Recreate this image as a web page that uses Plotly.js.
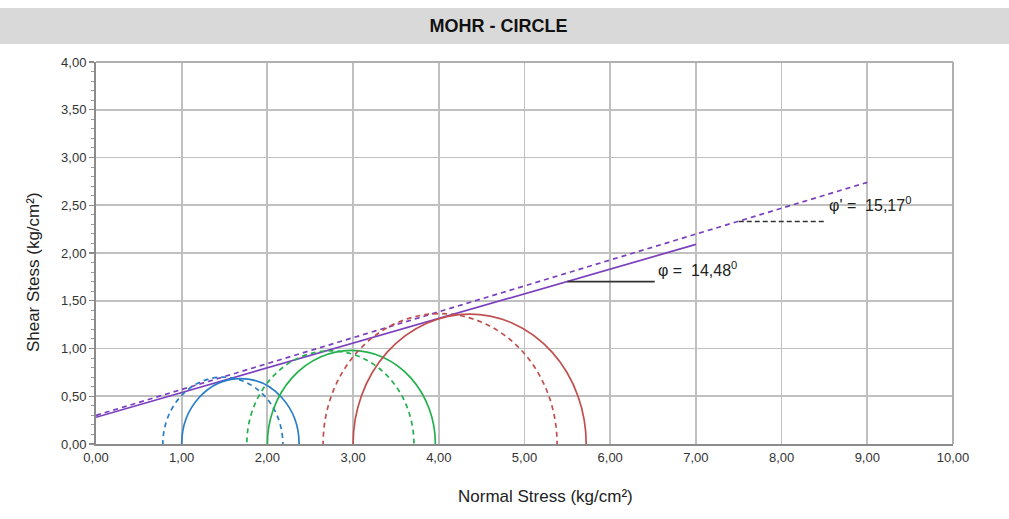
<!DOCTYPE html>
<html>
<head>
<meta charset="utf-8">
<script src="https://cdn.plot.ly/plotly-3.0.1.min.js"></script>
<style>
html,body{margin:0;padding:0;background:#fff;}
#chart{width:1009px;height:519px;}
</style>
</head>
<body>
<div id="chart"></div>
<script>
// Envelope lines
var solidLineX = [0, 7];
var solidLineY = [0.28, 2.09];
var dashedLineX = [0, 9];
var dashedLineY = [0.30, 2.74];
// Angle marker segments
var phiMarkX = [5.50, 6.52];
var phiMarkY = [1.70, 1.70];
var phiPMarkX = [7.50, 8.52];
var phiPMarkY = [2.33, 2.33];
// Mohr circles: left / right normal stress (kg/cm²)
var circleNames = ["Blue total", "Blue effective", "Green total", "Green effective", "Red total", "Red effective"];
var circleLeft  = [1.00, 0.78, 2.00, 1.76, 3.00, 2.65];
var circleRight = [2.37, 2.18, 3.96, 3.71, 5.72, 5.38];
var circleColor = ["#2a7ec8", "#2a7ec8", "#22b14c", "#22b14c", "#c0504d", "#c0504d"];
var circleDash  = ["solid", "dash", "solid", "dash", "solid", "dash"];
// Labels
var phiText = "φ =  14,48<sup>0</sup>";
var phiPText = "φ' =  15,17<sup>0</sup>";
var titleText = "MOHR - CIRCLE";
var xTitle = "Normal Stress (kg/cm²)";
var yTitle = "Shear Stess (kg/cm²)";

var fam = "'Liberation Sans Narrow', 'Arial Narrow', 'Liberation Sans', Arial, sans-serif";

var shapes = [];
// title bar background
shapes.push({type:"rect", xref:"paper", yref:"paper", x0:-0.2, x1:1.2,
  y0:(519-44-75)/(519-62-75), y1:(519-8-75)/(519-62-75),
  fillcolor:"#d9d9d9", line:{width:0}, layer:"below"});
for (var i = 0; i < circleLeft.length; i++) {
  var r = (circleRight[i] - circleLeft[i]) / 2;
  shapes.push({type:"circle", xref:"x", yref:"y",
    x0: circleLeft[i], x1: circleRight[i], y0: -r, y1: r,
    line:{color: circleColor[i], width: 1.7, dash: circleDash[i] === "dash" ? "5px,4px" : "solid"},
    fillcolor:"rgba(0,0,0,0)", layer:"above"});
}

var traces = [
  {x: solidLineX, y: solidLineY, mode:"lines", line:{color:"#7b3fbf", width:1.7}, hoverinfo:"skip"},
  {x: dashedLineX, y: dashedLineY, mode:"lines", line:{color:"#7b3fbf", width:1.7, dash:"5px,4px"}, hoverinfo:"skip"},
  {x: phiMarkX, y: phiMarkY, mode:"lines", line:{color:"#333333", width:1.8}, hoverinfo:"skip"},
  {x: phiPMarkX, y: phiPMarkY, mode:"lines", line:{color:"#333333", width:1.5, dash:"5px,3px"}, hoverinfo:"skip"}
];

var layout = {
  width:1009, height:519,
  margin:{l:96, r:56, t:62, b:75},
  paper_bgcolor:"#ffffff", plot_bgcolor:"#ffffff",
  showlegend:false,
  separators:",.",
  font:{family:fam, color:"#222", size:13},
  title:{text:"<b>"+titleText+"</b>", font:{family:fam, size:18, color:"#111"},
    x:0.494, xanchor:"center", y:1-26/519, yanchor:"middle"},
  xaxis:{range:[0,10], dtick:1, tickformat:".2f", showgrid:true, gridcolor:"#c0c0c0", gridwidth:1.8,
    showline:true, linecolor:"#8c8c8c", linewidth:2, mirror:false, zeroline:false,
    ticks:"", tickfont:{family:fam, size:13, color:"#333"},
    fixedrange:true},
  yaxis:{range:[0,4], dtick:0.5, tickformat:".2f", showgrid:true, gridcolor:"#c0c0c0", gridwidth:1.8,
    showline:true, linecolor:"#8c8c8c", linewidth:2, zeroline:false,
    ticks:"outside", ticklen:5, tickcolor:"#8c8c8c", tickwidth:1.2,
    minor:{dtick:0.1, ticks:"outside", ticklen:3, tickcolor:"#9a9a9a", tickwidth:1, showgrid:false},
    tickfont:{family:fam, size:13, color:"#333"},
    fixedrange:true},
  shapes: shapes.concat([
    {type:"line", xref:"paper", yref:"paper", x0:0, x1:1, y0:1, y1:1, line:{color:"#b0b0b0", width:2}},
    {type:"line", xref:"paper", yref:"paper", x0:1, x1:1, y0:0, y1:1, line:{color:"#b0b0b0", width:2}}
  ]),
  annotations:[
    {x:6.53, y:1.83, xref:"x", yref:"y", text:phiText, showarrow:false, xanchor:"left", yanchor:"middle",
      font:{family:fam, size:16, color:"#222"}},
    {x:8.53, y:2.51, xref:"x", yref:"y", text:phiPText, showarrow:false, xanchor:"left", yanchor:"middle",
      font:{family:fam, size:16, color:"#222"}},
    {x:0.525, y:-52/382, xref:"paper", yref:"paper", text:xTitle, showarrow:false,
      xanchor:"center", yanchor:"middle", font:{family:fam, size:17, color:"#222"}},
    {x:-63/857, y:0.45, xref:"paper", yref:"paper", text:yTitle, showarrow:false, textangle:-90,
      xanchor:"center", yanchor:"middle", font:{family:fam, size:17, color:"#222"}}
  ]
};

Plotly.newPlot("chart", traces, layout, {displayModeBar:false, staticPlot:true});
</script>
</body>
</html>
